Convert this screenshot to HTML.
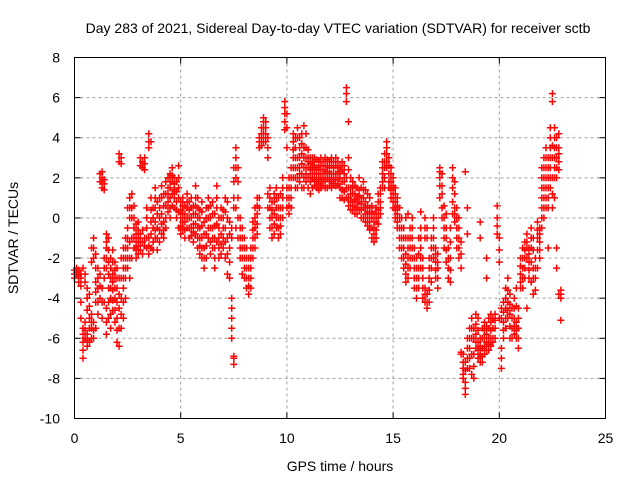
<!DOCTYPE html>
<html><head><meta charset="utf-8"><style>
html,body{margin:0;padding:0;background:#fff}
svg{display:block;font-family:"Liberation Sans",sans-serif}
</style></head><body>
<svg id="chart" width="640" height="480" viewBox="0 0 640 480">
<rect x="0" y="0" width="640" height="480" fill="#fff"/>
<text x="338" y="33" font-size="14" text-anchor="middle">Day 283 of 2021, Sidereal Day-to-day VTEC variation (SDTVAR) for receiver sctb</text>
<g id="grid"></g>
<g id="ticks"></g>
<g id="marks"></g>
<rect x="74.5" y="57.5" width="531" height="361" fill="none" stroke="#000" stroke-width="1"/>
<text x="340" y="471" font-size="14" text-anchor="middle">GPS time / hours</text>
<text x="18" y="238" font-size="14" text-anchor="middle" transform="rotate(-90 18 238)">SDTVAR / TECUs</text>
</svg>
<script>
const xTicks=[0,5,10,15,20,25];
const yTicks=[-10,-8,-6,-4,-2,0,2,4,6,8];
const hours=[0.0,0.1,0.2,0.3,0.4,0.5,0.6,0.7,0.8,0.9,1.0,1.1,1.2,1.3,1.4,1.5,1.6,1.7,1.8,1.9,2.0,2.1,2.2,2.3,2.4,2.5,2.6,2.7,2.8,2.9,3.0,3.1,3.2,3.3,3.4,3.5,3.6,3.7,3.8,3.9,4.0,4.1,4.2,4.3,4.4,4.5,4.6,4.7,4.8,4.9,5.0,5.1,5.2,5.3,5.4,5.5,5.6,5.7,5.8,5.9,6.0,6.1,6.2,6.3,6.4,6.5,6.6,6.7,6.8,6.9,7.0,7.1,7.2,7.3,7.4,7.5,7.6,7.7,7.8,7.9,8.0,8.1,8.2,8.3,8.4,8.5,8.6,8.7,8.8,8.9,9.0,9.1,9.2,9.3,9.4,9.5,9.6,9.7,9.8,9.9,10.0,10.1,10.2,10.3,10.4,10.5,10.6,10.7,10.8,10.9,11.0,11.1,11.2,11.3,11.4,11.5,11.6,11.7,11.8,11.9,12.0,12.1,12.2,12.3,12.4,12.5,12.6,12.7,12.8,12.9,13.0,13.1,13.2,13.3,13.4,13.5,13.6,13.7,13.8,13.9,14.0,14.1,14.2,14.3,14.4,14.5,14.6,14.7,14.8,14.9,15.0,15.1,15.2,15.3,15.4,15.5,15.6,15.7,15.8,15.9,16.0,16.1,16.2,16.3,16.4,16.5,16.6,16.7,16.8,16.9,17.0,17.1,17.2,17.3,17.4,17.5,17.6,17.7,17.8,17.9,18.0,18.1,18.2,18.3,18.4,18.5,18.6,18.7,18.8,18.9,19.0,19.1,19.2,19.3,19.4,19.5,19.6,19.7,19.8,19.9,20.0,20.1,20.2,20.3,20.4,20.5,20.6,20.7,20.8,20.9,21.0,21.1,21.2,21.3,21.4,21.5,21.6,21.7,21.8,21.9,22.0,22.1,22.2,22.3,22.4,22.5,22.6,22.7,22.8,22.9];
const values=[
[-2.6,-2.8,-3.0],[-2.8,-2.5,-2.7],[-2.6,-2.9,-3.2],[-2.8,-3.0,-3.4,-5.0,-4.2],[-5.5,-5.8,-6.2,-6.6,-7.0,-2.5],[-6.0,-5.6,-5.2,-2.8,-3.2],[-5.8,-6.1,-6.4,-4.6,-3.5,-4.0],[-5.0,-5.5,-6.2,-3.8,-4.4],[-4.8,-5.2,-5.5,-6.0,-1.5,-2.2],[-5.2,-5.6,-6.0,-1.0,-1.5,-2.0],
[-4.2,-3.7,-3.2,-2.5,-1.8,-5.5],[-3.5,-3.0,-2.5,-4.2,-4.8],[1.8,2.2,-2.8,-3.4,-4.0],[1.5,1.8,2.0,2.3,-3.5,-4.2,-5.0],[1.4,1.7,1.9,-2.0,-2.5,-3.0,-4.2],[-0.8,-1.2,-1.5,-2.0,-2.5,-4.5,-5.8,-5.2],[-1.0,-1.6,-2.2,-2.8,-3.5,-4.2,-5.0],[-2.0,-2.5,-3.0,-3.5,-4.0,-4.8,-5.5],[-1.6,-2.2,-2.8,-3.2,-3.6,-4.1,-4.6],[-2.2,-2.6,-3.0,-3.5,-4.0,-4.6,-5.2],
[-2.5,-3.0,-3.5,-4.2,-5.0,-5.6,-6.2],[2.8,3.2,-3.0,-3.8,-4.5,-5.5,-6.4],[3.0,2.7,-2.0,-3.0,-4.0,-4.8,-5.5],[-1.5,-2.0,-2.5,-3.0,-3.5,-4.2,-5.0],[-1.0,-1.5,-2.0,-2.5,-3.0,-4.0],[-0.5,-1.0,-1.5,-2.0,-2.5,0.5],[0.5,1.0,-1.2,-2.0,-3.0,0.0],[1.2,0.5,0.0,-1.0,-2.0],[0.6,0.0,-0.5,-1.0,-1.5],[-0.8,-1.2,-1.6,-2.0,-0.3],
[-1.0,-1.4,-1.8,-0.2,-0.6],[2.6,3.0,-1.2,-0.8,-1.6],[2.8,2.5,-0.6,-1.2,-1.8],[3.0,2.7,2.4,-1.0,-1.4],[-0.5,-1.0,-1.5,0.5,0.0],[3.5,3.8,4.2,-1.0,-1.4,-1.8],[3.8,1.0,0.4,-0.2,-0.8,-1.5],[0.5,0.0,-0.5,-1.2,-1.6],[-0.2,-0.6,-1.0,1.5,1.0,0.5],[0.8,0.2,-0.5,-1.0,-1.6],
[1.0,0.5,0.0,-0.6,-1.2],[1.6,1.0,0.2,-0.3,-0.8],[1.2,0.6,-0.2,-0.6,-1.0],[1.8,1.2,0.6,0.0,-0.5],[1.5,2.0,1.2,0.8,0.3],[2.2,1.8,1.5,1.0,0.5,0.0],[2.5,2.1,1.8,1.2,0.6],[2.0,1.7,1.4,1.0,0.5],[1.8,1.3,0.8,0.4,0.0],[2.6,2.0,1.5,1.0,0.3,-0.5],
[0.8,0.4,0.0,-0.4,-0.8],[1.0,0.6,0.2,-0.2,-0.6],[0.6,0.2,-0.2,-0.6,-1.0],[0.5,0.0,-0.5,1.2,0.8],[0.0,-0.5,-1.0,0.8,0.4],[-0.5,0.0,0.5,1.0,-0.9],[-1.2,-0.7,-0.3,0.2,0.6],[0.2,-0.3,-0.8,1.6,1.0,0.6],[1.0,0.5,0.0,-0.5,-1.0,-1.5],[-0.5,-1.0,-1.4,-1.8,0.4,0.0],
[-1.0,-1.5,-2.0,0.8,0.3,-0.4],[-0.2,-0.8,-1.5,-2.0,-2.5],[0.5,0.0,-0.8,-1.4,-2.0],[1.0,0.5,0.0,-0.5,-1.0],[0.6,0.0,-0.5,-1.2,-1.8],[-0.5,-1.0,-1.5,0.8,0.2],[-1.0,-1.5,-2.0,-2.5,0.2,-0.4],[1.6,1.0,0.5,-0.3,-1.2],[0.0,-0.5,-1.0,-1.5,-2.0],[-0.8,-1.3,-1.8,0.5,0.0],
[0.4,0.0,-0.5,-1.0,-1.5],[1.0,0.3,-0.5,-1.2,-2.0],[0.8,0.0,-1.0,-1.8,-2.8],[-1.5,-2.2,-3.0,-0.2,-0.8],[-4.0,-4.5,-5.0,-5.5,-6.0,-1.0,-0.5],[-7.0,-7.3,-6.9,0.5,1.0,1.8,2.5],[2.0,2.5,3.0,3.5,-0.5,0.5],[1.0,1.8,2.5,-1.0,0.0],[-1.0,-1.5,-2.0,0.0,-0.5],[-1.5,-2.0,-2.8,-0.5,-1.0],
[-2.0,-2.5,-3.0,-1.0,-1.5],[-2.5,-3.0,-3.5,-1.5,-2.0],[-3.0,-3.4,-3.8,-2.0,-2.5],[-3.5,-3.0,-2.5,-1.5,-2.0],[-2.0,-1.5,-1.0,-0.2,-0.6],[-1.5,-1.0,-0.5,0.5,0.0],[-0.8,-0.3,0.2,0.6,1.0],[3.5,3.8,4.0,0.5,1.0],[3.8,4.2,4.5,4.0,3.6],[4.5,4.8,5.0,3.8,4.2],
[4.2,4.5,4.8,4.0,3.8],[4.0,3.5,3.0,1.2,0.5],[1.0,0.5,0.0,-0.5,1.5],[0.8,0.4,0.0,-0.5,-1.0],[1.2,0.8,0.2,-0.3,-0.8],[0.5,0.0,-0.5,1.5,1.0],[-0.5,0.0,0.5,1.0,-1.0],[1.2,0.5,0.0,-0.8,-0.4],[0.0,0.5,1.0,1.5,2.0],[5.8,5.5,5.2,4.8,4.4],
[5.2,4.5,3.5,0.5,1.0,1.5],[1.0,1.5,2.0,0.2,0.6],[1.5,2.0,2.5,0.5,1.0],[2.0,2.5,3.0,3.4,3.8,4.2],[3.5,4.0,3.0,2.5,2.0,1.5],[3.0,2.5,2.0,1.5,4.5,4.0],[2.5,3.0,3.5,1.8,4.0,2.2],[3.2,2.7,2.2,1.5,4.2,3.7],[2.0,2.5,3.0,3.5,4.6,1.5],[2.5,3.0,3.5,1.8,4.2,2.2],
[3.0,2.5,2.0,1.5,2.8,3.4],[2.5,1.8,2.2,3.0,1.2,2.7],[2.8,2.4,2.0,1.5,3.0],[2.2,1.6,1.9,2.6,3.0],[2.5,1.8,2.2,2.9,1.5],[2.0,2.4,2.8,1.4,1.7],[2.6,1.8,2.2,3.0,1.5],[2.0,2.4,2.8,1.6,1.9],[2.2,2.6,3.0,1.8,1.5],[2.6,2.0,2.3,1.5,2.9],
[2.8,2.2,2.5,1.6,1.9],[3.0,2.6,2.2,1.8,1.5],[2.5,2.0,2.8,2.2,1.7],[2.2,1.6,1.9,2.6,3.0],[2.5,2.0,2.8,2.2,1.7],[2.0,2.6,1.5,2.3,1.0],[2.4,1.8,2.8,1.4,1.0],[2.2,1.8,2.6,1.3,0.9],[6.2,6.5,5.8,2.0,1.5,1.0],[4.8,3.0,2.4,1.5,1.0,0.6],
[1.5,2.0,0.8,1.2,0.4],[1.2,0.8,1.8,0.4,1.5],[0.6,1.2,1.6,0.2,0.9],[0.5,1.0,1.5,0.2,0.8],[0.8,1.4,2.0,0.4,1.1],[1.0,1.5,0.4,0.0,0.7],[0.5,1.0,1.8,0.0,1.4],[0.2,0.8,1.4,-0.2,0.5],[0.0,0.6,1.2,-0.4,0.3],[0.5,1.0,-0.2,-0.6,0.2],
[0.0,0.6,-0.5,-1.0,0.3],[-0.5,0.2,-1.2,-0.8,-0.2],[-1.0,-0.2,0.5,-0.6,0.2],[0.0,0.8,1.2,0.4,-0.3],[0.8,1.5,0.2,1.2,0.5],[1.5,2.2,2.8,1.8,2.5],[2.5,3.2,1.5,2.0,2.8],[3.5,3.8,2.8,3.2,2.5],[3.0,2.2,1.5,2.6,1.8],[2.5,1.8,1.0,2.2,1.4],
[2.0,1.2,0.5,1.6,0.8],[1.5,0.8,0.0,1.2,0.4],[1.0,0.2,-0.5,0.6,-0.2],[0.5,-0.5,-1.5,0.0,-1.0],[0.0,-1.0,-2.0,-0.5,-1.5],[-1.5,-2.5,-0.5,-2.0,-1.0],[-2.8,-3.2,-1.8,0.0,-2.3,-1.0],[-2.0,-1.0,-3.0,0.2,-1.5,-2.5],[-1.5,-0.5,-2.5,-1.0,-2.0],[-1.0,-2.0,0.0,-1.5,-0.5],
[-2.5,-1.5,-3.5,-2.0,-3.0],[-3.0,-4.0,-2.0,-3.5,-2.5],[-3.5,-2.5,-1.0,-3.0,-1.8],[-1.5,-0.5,-2.5,0.3,-1.0,-2.0],[-2.0,-3.0,-4.0,-2.5,-3.5],[-4.2,-3.5,-1.0,0.0,-3.8,-0.5],[-4.5,-3.8,-0.5,-4.2,-1.0],[-2.0,-3.0,-4.2,-2.5,-3.6],[-1.0,-2.0,-3.2,-1.5,-2.5],[0.0,-1.0,-2.0,-0.5,-1.5],
[-2.2,-3.0,-1.5,-2.6,-1.8],[-2.5,-3.5,-1.8,-3.0,-2.2],[2.0,2.5,1.0,2.3,1.6],[1.6,2.2,0.0,1.2,0.5],[0.6,-0.5,-1.5,0.0,-1.0],[0.2,-1.0,-2.2,-0.5,-1.6],[-1.5,-2.5,-3.0,-2.0],[-2.0,-3.2,-0.5,-1.2,-2.6],[2.5,2.0,1.5,0.2,0.8],[1.8,0.5,-0.2,1.2,0.2],
[0.5,-0.5,-1.5,0.0,-1.0],[0.0,-1.0,-2.0,-0.5,-1.5],[-1.2,-2.5,-6.7,-6.8,-1.8],[-6.8,-7.5,-8.0,-7.2,-7.8],[-8.2,-8.8,-7.2,-7.6,2.3,-8.5],[-6.0,-7.0,-6.5,0.5,-0.8,-7.5],[-5.5,-6.5,-7.5,-6.0,-7.0],[-5.0,-6.0,-7.8,-5.5,-6.8],[-5.5,-6.8,-8.0,-6.0,-7.4],[-4.8,-5.8,-6.5,-5.3,-6.2],
[-5.0,-6.2,-7.0,-5.6,-6.6],[-6.0,-6.8,-0.2,-1.0,-6.4,-7.2],[-5.5,-6.5,-7.2,-6.0,-6.9],[-5.2,-6.0,-6.8,-5.6,-6.4],[-5.8,-6.2,-2.0,-3.0,-5.4,-6.6],[-5.0,-6.0,-6.6,-5.5,-6.3],[-4.8,-5.6,-6.4,-5.2,-6.0],[-5.5,-6.0,-6.2,-5.0],[-4.8,-5.5,-5.1,-6.0],[0.6,0.0,-0.8,-0.4],
[-1.0,-2.2,-5.0,-1.6],[-6.5,-7.5,-5.0,-7.0,-4.5],[-4.2,-5.2,-6.0,-4.7,-5.6],[-3.5,-4.5,-5.5,-4.0,-5.0],[-3.0,-4.2,-5.0,-3.6,-4.6],[-3.8,-4.8,-6.0,-4.3,-5.4],[-4.5,-5.5,-6.0,-5.0],[-4.0,-5.0,-5.8,-4.5,-5.4],[-5.2,-6.0,-3.5,-5.6,-4.4],[-4.5,-5.5,-6.5,-5.0,-6.0],
[-2.0,-2.8,-3.5,-2.4,-3.2],[-2.5,-3.5,-1.5,-3.0,-2.0],[-1.2,-2.0,-3.0,-1.6,-2.5],[-0.8,-1.5,-4.5,-1.2,-2.0],[-1.5,-2.2,-3.0,-1.8,-2.6],[-0.5,-1.5,-3.2,-1.0,-2.2],[-1.0,-2.5,-3.8,-1.6,-3.0],[-2.0,-3.0,-3.6,-2.5],[-0.2,-1.0,-2.5,-0.6,-1.6],[-0.5,-1.2,-2.0,-0.8,-1.6],
[0.5,1.5,2.5,-0.5,1.0,2.0,0.0],[1.0,2.0,3.0,0.0,1.5,2.5,0.5],[2.5,3.5,1.5,0.5,3.0,2.0,1.0],[1.0,2.0,3.0,-1.5,2.5,1.5,0.5],[3.5,4.5,2.5,1.5,4.0,3.0,2.0],[5.8,6.2,2.0,0.5,3.0,3.6,1.2],[3.5,4.5,2.5,1.0,4.0,3.0,2.0],[3.0,4.0,2.0,-1.5,-2.5,3.5,2.5],[3.5,4.2,2.8,-3.8,3.2,2.4],[-3.8,-4.0,-5.1,-3.6]
];
const X0=74.5,X1=605.5,Y0=418.5,Y1=57.5;
function xs(h){return X0+(h-0)/(25-0)*(X1-X0);}
function ys(v){return Y0-(v-(-10))/(8-(-10))*(Y0-Y1);}
const NS="http://www.w3.org/2000/svg";
const grid=document.getElementById('grid'),ticks=document.getElementById('ticks'),marks=document.getElementById('marks');
function mk(tag,attrs,parent){const e=document.createElementNS(NS,tag);for(const k in attrs)e.setAttribute(k,attrs[k]);parent.appendChild(e);return e;}
xTicks.forEach(t=>{
  const x=xs(t);
  if(t>0&&t<25){const g=mk('line',{x1:x,x2:x,y1:Y1,y2:Y0,stroke:'#a0a0a0','stroke-dasharray':'3,3'},grid);
  
  }
  const a=mk('line',{x1:x,x2:x,y1:Y0,y2:Y0-6,stroke:'#000'},ticks);
  
  
  const b=mk('line',{x1:x,x2:x,y1:Y1,y2:Y1+6,stroke:'#000'},ticks);
  
  
  const l=mk('text',{x:x,y:443,'font-size':14,'text-anchor':'middle'},ticks);l.textContent=t;
  
  
});
yTicks.forEach(t=>{
  const y=ys(t);
  if(t>-10&&t<8){const g=mk('line',{x1:X0,x2:X1,y1:y,y2:y,stroke:'#a0a0a0','stroke-dasharray':'3,3'},grid);
  
  }
  const a=mk('line',{x1:X0,x2:X0+6,y1:y,y2:y,stroke:'#000'},ticks);
  
  
  const b=mk('line',{x1:X1,x2:X1-6,y1:y,y2:y,stroke:'#000'},ticks);
  
  
  const l=mk('text',{x:60,y:y+5,'font-size':14,'text-anchor':'end'},ticks);l.textContent=t;
  
  
});
let d='';
hours.forEach((h,i)=>{
  (values[i]||[]).forEach(v=>{
    const x=xs(h),y=ys(v);
    d+=`M${(x-3.5).toFixed(1)} ${y.toFixed(1)}h7M${x.toFixed(1)} ${(y-3.5).toFixed(1)}v7`;
  });
});
const p=mk('path',{d:d,stroke:'#ff0000','stroke-width':1.5,fill:'none'},marks);


</script>
</body></html>
